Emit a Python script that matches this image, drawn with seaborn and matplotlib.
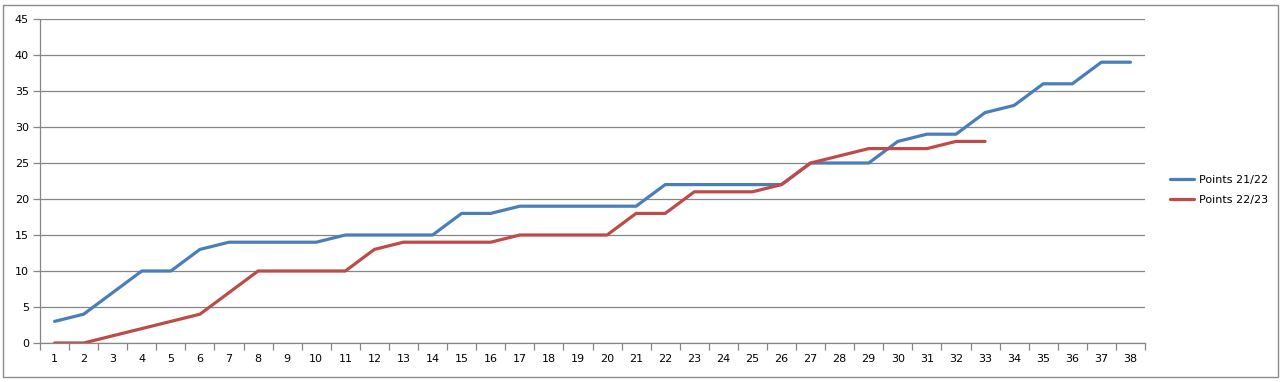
import matplotlib
matplotlib.use("Agg")
import matplotlib.pyplot as plt
from matplotlib.patches import Rectangle
import numpy as np
import pandas as pd
import seaborn as sns

rounds_a = list(range(1, 39))
points_2122 = [3, 4, 7, 10, 10, 13, 14, 14, 14, 14, 15, 15, 15, 15, 18, 18, 19, 19, 19, 19,
               19, 22, 22, 22, 22, 22, 25, 25, 25, 28, 29, 29, 32, 33, 36, 36, 39, 39]
rounds_b = list(range(1, 34))
points_2223 = [0, 0, 1, 2, 3, 4, 7, 10, 10, 10, 10, 13, 14, 14, 14, 14, 15, 15, 15, 15,
               18, 18, 21, 21, 21, 22, 25, 26, 27, 27, 27, 28, 28]
series_names = ["Points 21/22", "Points 22/23"]
y_ticks = [0, 5, 10, 15, 20, 25, 30, 35, 40, 45]

df = pd.concat([
    pd.DataFrame({"Round": rounds_a, "Points": points_2122, "Series": series_names[0]}),
    pd.DataFrame({"Round": rounds_b, "Points": points_2223, "Series": series_names[1]}),
])

sns.set_theme(style="white")
plt.rcParams["font.family"] = ["DejaVu Sans"]

fig = plt.figure(figsize=(12.86, 3.82), dpi=100)
ax = fig.add_axes([40 / 1286, 1 - 343 / 382, (1145 - 40) / 1286, (343 - 19) / 382])

sns.lineplot(data=df, x="Round", y="Points", hue="Series",
             palette=["#4A7EBB", "#BE4B48"], linewidth=2.3, ax=ax, legend=True)

grid_c = "#868686"
ax.set_xlim(0.5, 38.5)
ax.set_ylim(0, 45)
ax.set_yticks(y_ticks)
ax.set_xticks(rounds_a)
ax.set_xticklabels([str(r) for r in rounds_a])
ax.set_xticks(np.arange(0.5, 39, 1), minor=True)
ax.yaxis.grid(True, color=grid_c, linewidth=0.9)
ax.set_axisbelow(True)
ax.tick_params(axis="x", which="major", bottom=True, length=0, pad=8, labelsize=8,
               labelcolor="black")
ax.tick_params(axis="x", which="minor", bottom=True, length=5, width=0.9, color=grid_c,
               direction="out")
ax.tick_params(axis="y", which="major", left=True, length=5, width=0.9, color=grid_c,
               labelsize=8, labelcolor="black", direction="out", pad=3)
for s in ["top", "right"]:
    ax.spines[s].set_visible(False)
for s in ["left", "bottom"]:
    ax.spines[s].set_color(grid_c)
    ax.spines[s].set_linewidth(0.9)
ax.set_xlabel("")
ax.set_ylabel("")

handles, labels = ax.get_legend_handles_labels()
ax.get_legend().remove()
leg = fig.legend(handles, labels, loc="center left", bbox_to_anchor=(1160 / 1286, 1 - 190 / 382),
                 frameon=False, fontsize=8, handlelength=2.2, handletextpad=0.4,
                 labelspacing=0.9)
for t in leg.get_texts():
    t.set_color("black")

fig.patches.append(Rectangle((3 / 1286, 1 - 377 / 382), 1275 / 1286, 372 / 382,
                             transform=fig.transFigure, fill=False, edgecolor="#8c8c8c",
                             linewidth=1.0))

fig.savefig("out.png", dpi=100)
